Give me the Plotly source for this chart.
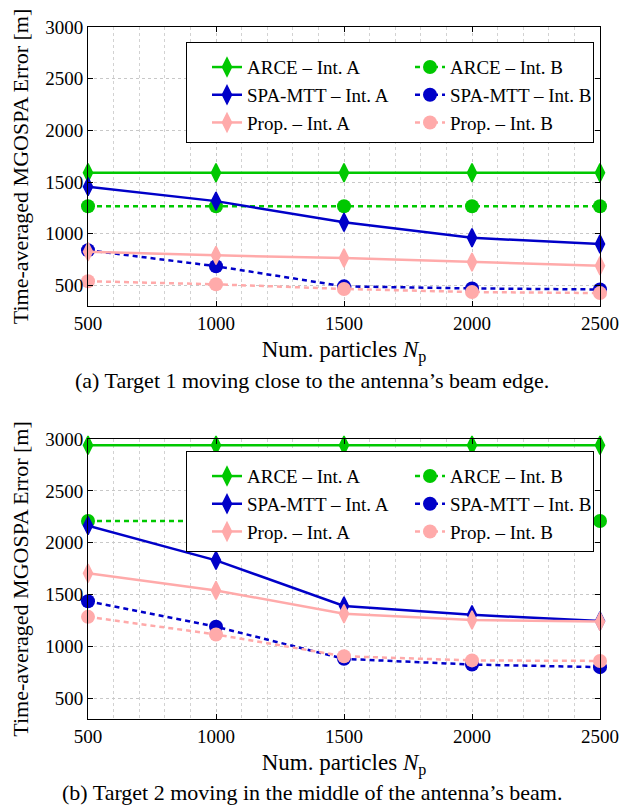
import plotly.graph_objects as go
from plotly.subplots import make_subplots

# ---------------- data ----------------
particles = [500, 1000, 1500, 2000, 2500]

# (a) Target 1 moving close to the antenna's beam edge
a_arce_A = [1590, 1590, 1590, 1590, 1590]
a_arce_B = [1265, 1265, 1265, 1265, 1265]
a_spa_A = [1455, 1315, 1110, 960, 900]
a_spa_B = [840, 685, 490, 470, 460]
a_prop_A = [825, 790, 765, 725, 690]
a_prop_B = [540, 510, 465, 435, 425]

# (b) Target 2 moving in the middle of the antenna's beam
b_arce_A = [2940, 2940, 2940, 2940, 2940]
b_arce_B = [2210, 2210, 2210, 2210, 2210]
b_spa_A = [2165, 1830, 1390, 1305, 1245]
b_spa_B = [1435, 1190, 880, 825, 800]
b_prop_A = [1705, 1540, 1315, 1255, 1240]
b_prop_B = [1285, 1115, 905, 865, 860]

series_names = ["ARCE \u2013 Int. A", "ARCE \u2013 Int. B",
                "SPA-MTT \u2013 Int. A", "SPA-MTT \u2013 Int. B",
                "Prop. \u2013 Int. A", "Prop. \u2013 Int. B"]

y_ticks = [500, 1000, 1500, 2000, 2500, 3000]
x_ticks = [500, 1000, 1500, 2000, 2500]

captions = ["(a) Target 1 moving close to the antenna\u2019s beam edge.",
            "(b) Target 2 moving in the middle of the antenna\u2019s beam."]

# ---------------- styles ----------------
GREEN = "#00C800"
BLUE = "#0000C8"
PINK = "#FFAAAA"
FONT = "Liberation Serif"

styles = [
    dict(color=GREEN, dash="solid", symbol="diamond-tall"),
    dict(color=GREEN, dash="5px,4px", symbol="circle"),
    dict(color=BLUE, dash="solid", symbol="diamond-tall"),
    dict(color=BLUE, dash="5px,4px", symbol="circle"),
    dict(color=PINK, dash="solid", symbol="diamond-tall"),
    dict(color=PINK, dash="5px,4px", symbol="circle"),
]

W, H = 624, 806
ML, MR, MT, MB = 88, 24, 27, 87
plot_h = H - MT - MB
top_px = (27, 306)
bot_px = (439, 719)


def frac(py):
    return (H - MB - py) / plot_h


fig = make_subplots(rows=2, cols=1)

panels = [
    (1, "legend", [a_arce_A, a_arce_B, a_spa_A, a_spa_B, a_prop_A, a_prop_B]),
    (2, "legend2", [b_arce_A, b_arce_B, b_spa_A, b_spa_B, b_prop_A, b_prop_B]),
]

for row, leg, data in panels:
    for name, ys, st in zip(series_names, data, styles):
        if st["symbol"] == "diamond-tall":
            mk = dict(symbol="diamond-tall", size=13, color=st["color"],
                      line=dict(width=1.5, color=st["color"]))
        else:
            mk = dict(symbol="circle", size=14, color=st["color"],
                      line=dict(width=0))
        fig.add_trace(
            go.Scatter(
                x=particles, y=ys, name=name, mode="lines+markers",
                line=dict(color=st["color"], width=2.5, dash=st["dash"]),
                marker=mk, cliponaxis=False, legend=leg,
            ),
            row=row, col=1,
        )

axis_common_x = dict(
    range=[500, 2500], tickvals=x_ticks, ticks="inside", ticklen=5,
    tickcolor="black", showline=True, linecolor="black", linewidth=1,
    mirror="ticks", showgrid=True, gridcolor="#c8c8c8", griddash="dot",
    gridwidth=1, zeroline=False, automargin=False,
    minor=dict(dtick=100, showgrid=True, gridcolor="#d2d2d2", griddash="dot",
               gridwidth=1, ticks=""),
    tickfont=dict(family=FONT, size=19, color="black"),
    title=dict(text="Num. particles <i>N</i><sub>p</sub>",
               font=dict(family=FONT, size=23, color="black"), standoff=8),
)
axis_common_y = dict(
    range=[300, 3000], tickvals=y_ticks, ticks="inside", ticklen=5,
    tickcolor="black", showline=True, linecolor="black", linewidth=1,
    mirror="ticks", showgrid=True, gridcolor="#c8c8c8", griddash="dot",
    gridwidth=1, zeroline=False, automargin=False,
    tickfont=dict(family=FONT, size=19, color="black"),
    title=dict(text="Time-averaged MGOSPA Error [m]",
               font=dict(family=FONT, size=22, color="black"), standoff=10),
)

fig.update_xaxes(**axis_common_x)
fig.update_yaxes(**axis_common_y)
fig.update_layout(
    xaxis=dict(domain=[0, 1]), xaxis2=dict(domain=[0, 1]),
    yaxis=dict(domain=[frac(top_px[1]), 1.0]),
    yaxis2=dict(domain=[0.0, frac(bot_px[0])]),
)

leg_common = dict(
    orientation="h", xanchor="right", yanchor="top",
    bgcolor="white", bordercolor="black", borderwidth=1,
    font=dict(family=FONT, size=19, color="black"),
    entrywidthmode="pixels", entrywidth=138, indentation=20,
    traceorder="normal",
    title=dict(text=" ", side="top", font=dict(family=FONT, size=4)),
)

fig.update_layout(
    width=W, height=H,
    margin=dict(l=ML, r=MR, t=MT, b=MB, autoexpand=False),
    paper_bgcolor="white", plot_bgcolor="white",
    showlegend=True,
    legend=dict(x=(594 - ML) / 512, y=frac(42), **leg_common),
    legend2=dict(x=(594 - ML) / 512, y=frac(451), **leg_common),
)

cap_y = [frac(306), frac(719)]
for txt, yy, sh in zip(captions, cap_y, [-75, -73]):
    fig.add_annotation(
        text=txt, xref="paper", yref="paper", x=(312 - ML) / 512, y=yy,
        xanchor="center", yanchor="middle", yshift=sh, showarrow=False,
        font=dict(family=FONT, size=22, color="black"),
    )

fig.write_html("out.html")
